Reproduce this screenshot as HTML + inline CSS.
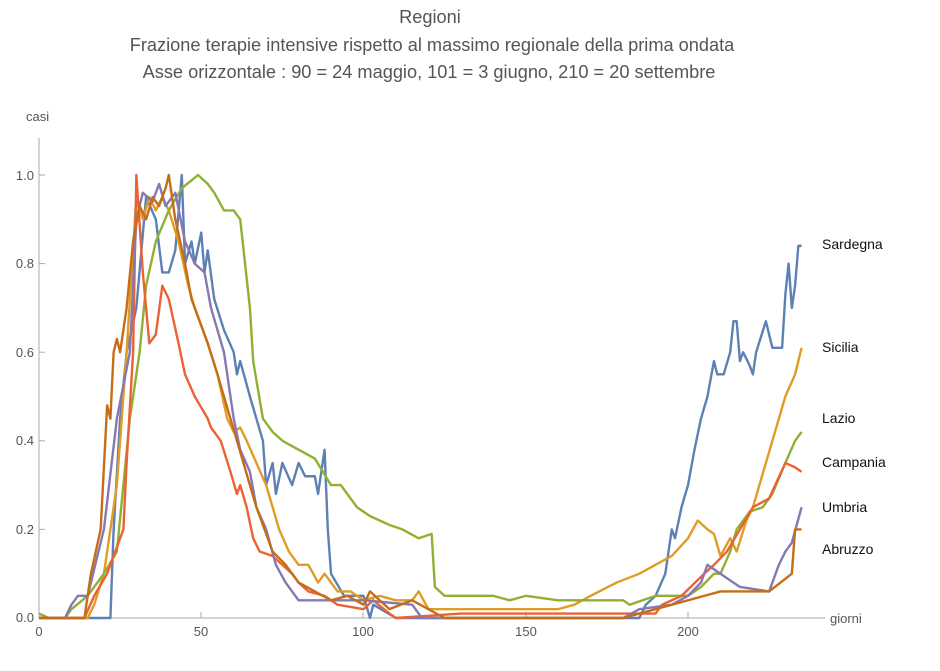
<!DOCTYPE html>
<html><head><meta charset="utf-8"><style>
body{margin:0;background:#fff;width:940px;height:666px;overflow:hidden;font-family:"Liberation Sans",sans-serif}
</style></head><body>
<svg width="940" height="666" xmlns="http://www.w3.org/2000/svg" font-family="Liberation Sans, sans-serif">
<g fill="#555" font-size="18.2" text-anchor="middle">
<text x="430" y="23">Regioni</text>
<text x="432" y="51">Frazione terapie intensive rispetto al massimo regionale della prima ondata</text>
<text x="429" y="78">Asse orizzontale : 90 = 24 maggio, 101 = 3 giugno, 210 = 20 settembre</text>
</g>
<g stroke="#aaa" stroke-width="1">
<line x1="39" y1="138" x2="39" y2="618"/>
<line x1="39" y1="618" x2="825" y2="618"/>
<line x1="39" y1="529.4" x2="45" y2="529.4"/><line x1="39" y1="440.8" x2="45" y2="440.8"/>
<line x1="39" y1="352.2" x2="45" y2="352.2"/><line x1="39" y1="263.6" x2="45" y2="263.6"/>
<line x1="39" y1="175" x2="45" y2="175"/>
<line x1="201" y1="618" x2="201" y2="612"/><line x1="363" y1="618" x2="363" y2="612"/>
<line x1="526" y1="618" x2="526" y2="612"/><line x1="688" y1="618" x2="688" y2="612"/>
</g>
<g fill="#555" font-size="13">
<text x="34" y="622" text-anchor="end">0.0</text>
<text x="34" y="534" text-anchor="end">0.2</text>
<text x="34" y="445" text-anchor="end">0.4</text>
<text x="34" y="357" text-anchor="end">0.6</text>
<text x="34" y="268" text-anchor="end">0.8</text>
<text x="34" y="180" text-anchor="end">1.0</text>
<text x="39" y="636" text-anchor="middle">0</text>
<text x="201" y="636" text-anchor="middle">50</text>
<text x="363" y="636" text-anchor="middle">100</text>
<text x="526" y="636" text-anchor="middle">150</text>
<text x="688" y="636" text-anchor="middle">200</text>
<text x="26" y="121">casi</text>
<text x="830" y="623">giorni</text>
</g>
<g transform="translate(39,618) scale(3.245,-443)" fill="none" stroke-width="2.4" stroke-linejoin="round">
<polyline vector-effect="non-scaling-stroke" stroke="#5E81B5" points="0,0 22,0 23,0.2 25,0.45 27,0.6 30,0.7 33,0.95 36,0.9 38,0.78 40,0.78 42,0.83 44,1.0 45,0.8 47,0.85 48,0.8 50,0.87 51,0.78 52,0.83 54,0.72 57,0.65 60,0.6 61,0.55 62,0.58 65,0.5 67,0.45 69,0.4 70,0.3 72,0.35 73,0.28 75,0.35 78,0.3 80,0.35 82,0.32 85,0.32 86,0.28 88,0.38 89,0.2 90,0.1 94,0.05 100,0.05 102,0 103,0.03 110,0 185,0 187,0.03 190,0.05 193,0.1 195,0.2 196,0.18 198,0.25 200,0.3 202,0.38 204,0.45 206,0.5 208,0.58 209,0.55 211,0.55 213,0.6 214,0.67 215,0.67 216,0.58 217,0.6 219,0.57 220,0.55 221,0.6 224,0.67 226,0.61 229,0.61 230,0.73 231,0.8 232,0.7 233,0.75 234,0.84 235,0.84"/>
<polyline vector-effect="non-scaling-stroke" stroke="#E19C24" points="0,0 15,0 17,0.03 20,0.1 24,0.3 27,0.6 30,0.95 32,0.9 34,0.95 36,0.92 38,0.95 40,0.92 43,0.85 46,0.75 48,0.7 52,0.62 55,0.55 58,0.45 60,0.42 62,0.43 64,0.4 67,0.35 70,0.3 72,0.25 74,0.2 77,0.15 80,0.12 83,0.12 86,0.08 88,0.1 92,0.06 96,0.06 100,0.04 105,0.05 110,0.04 115,0.04 117,0.06 120,0.02 160,0.02 165,0.03 170,0.05 178,0.08 185,0.1 190,0.12 195,0.14 200,0.18 203,0.22 206,0.2 208,0.19 210,0.14 213,0.18 215,0.15 218,0.22 220,0.25 222,0.3 224,0.35 226,0.4 228,0.45 230,0.5 233,0.55 235,0.61"/>
<polyline vector-effect="non-scaling-stroke" stroke="#8FB032" points="0,0.01 3,0 8,0 10,0.02 15,0.05 20,0.1 24,0.15 26,0.3 28,0.45 31,0.6 33,0.75 36,0.85 40,0.92 44,0.97 49,1.0 52,0.98 54,0.96 57,0.92 60,0.92 62,0.9 65,0.7 66,0.58 69,0.45 72,0.42 75,0.4 80,0.38 85,0.36 90,0.3 93,0.3 98,0.25 102,0.23 108,0.21 112,0.2 117,0.18 121,0.19 122,0.07 125,0.05 140,0.05 145,0.04 150,0.05 160,0.04 180,0.04 182,0.03 190,0.05 200,0.05 204,0.07 208,0.1 210,0.1 213,0.15 215,0.2 219,0.24 223,0.25 226,0.28 230,0.35 233,0.4 235,0.42"/>
<polyline vector-effect="non-scaling-stroke" stroke="#EB6235" points="0,0 14,0 17,0.05 21,0.1 26,0.2 27,0.35 29,0.6 30,1.0 32,0.78 34,0.62 36,0.64 38,0.75 40,0.72 43,0.62 45,0.55 48,0.5 52,0.45 53,0.43 56,0.4 59,0.33 61,0.28 62,0.3 64,0.25 66,0.18 68,0.15 72,0.14 75,0.12 78,0.1 80,0.08 83,0.06 88,0.05 92,0.03 100,0.02 103,0.04 108,0.01 110,0 130,0.01 190,0.01 192,0.03 198,0.05 205,0.1 208,0.12 212,0.15 216,0.2 220,0.25 225,0.27 230,0.35 233,0.34 235,0.33"/>
<polyline vector-effect="non-scaling-stroke" stroke="#8778B3" points="0,0 8,0 10,0.03 12,0.05 15,0.05 20,0.2 24,0.45 28,0.6 30,0.9 32,0.96 35,0.94 37,0.98 39,0.93 42,0.96 45,0.85 48,0.8 51,0.78 53,0.7 57,0.6 60,0.45 62,0.38 65,0.33 67,0.25 70,0.2 73,0.12 76,0.08 80,0.04 100,0.04 115,0.03 118,0 180,0 185,0.02 195,0.03 200,0.05 204,0.08 206,0.12 210,0.1 216,0.07 225,0.06 228,0.12 230,0.15 232,0.17 235,0.25"/>
<polyline vector-effect="non-scaling-stroke" stroke="#C56E1A" points="0,0 14,0 16,0.1 19,0.2 21,0.48 22,0.45 23,0.6 24,0.63 25,0.6 27,0.7 29,0.85 31,0.93 33,0.9 35,0.95 37,0.93 39,0.97 40,1.0 42,0.9 45,0.8 47,0.72 52,0.62 55,0.55 59,0.45 63,0.35 67,0.25 72,0.15 76,0.12 80,0.08 85,0.06 90,0.04 95,0.05 100,0.03 102,0.06 108,0.02 115,0.04 120,0.02 125,0 180,0 185,0.01 195,0.03 205,0.05 210,0.06 225,0.06 232,0.1 233,0.2 235,0.2"/>
</g>
<g fill="#111" font-size="14">
<text x="822" y="249">Sardegna</text>
<text x="822" y="352">Sicilia</text>
<text x="822" y="423">Lazio</text>
<text x="822" y="467">Campania</text>
<text x="822" y="512">Umbria</text>
<text x="822" y="554">Abruzzo</text>
</g>
</svg>
</body></html>
